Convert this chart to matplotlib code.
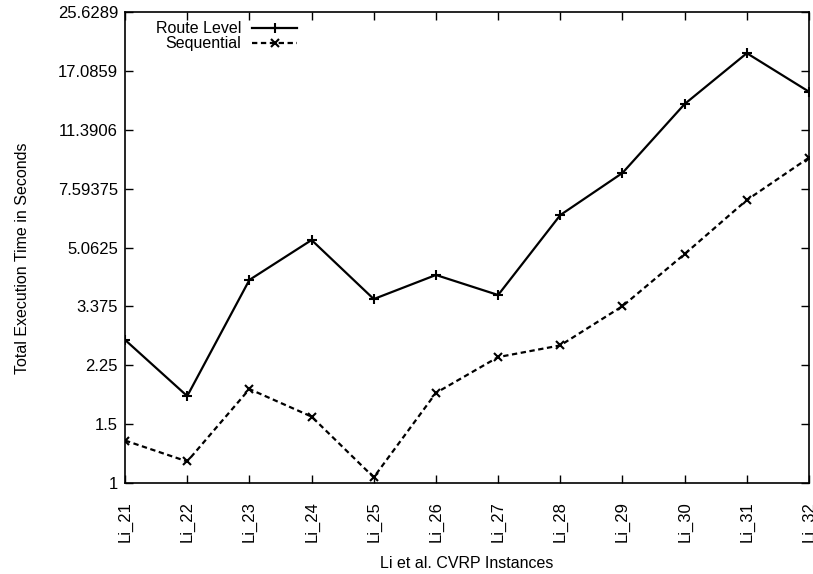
import numpy as np
import matplotlib.pyplot as plt
from matplotlib.ticker import FixedLocator, FixedFormatter, NullLocator

plt.rcParams['font.family'] = ['Liberation Sans', 'DejaVu Sans']

# 实例名称与两种方法的总执行时间（秒）
instances = ['Li_21', 'Li_22', 'Li_23', 'Li_24', 'Li_25', 'Li_26',
             'Li_27', 'Li_28', 'Li_29', 'Li_30', 'Li_31', 'Li_32']
route_level = [2.68, 1.82, 4.05, 5.33, 3.55, 4.19, 3.65, 6.33, 8.46, 13.6, 19.3, 14.8]
sequential = [1.34, 1.16, 1.91, 1.58, 1.04, 1.86, 2.38, 2.58, 3.38, 4.84, 7.02, 9.40]
series_names = ['Route Level', 'Sequential']

# y轴刻度：1.5的幂
ytick_vals = [1.5 ** k for k in range(9)]
ytick_labels = [f'{v:.6g}' for v in ytick_vals]

fs = 12
fs_lab = 11.5
lw = 1.6
fig = plt.figure(figsize=(8.13, 5.74), dpi=100)
ax = fig.add_axes([0.1538, 0.1585, 0.8413, 0.8206])

x = np.arange(len(instances))
styles = [dict(ls='-', marker='+', ms=6.5, mew=1.5),
          dict(ls=(0, (2.4, 1.6)), marker='x', ms=5.5, mew=1.5)]
for ys, st in zip([route_level, sequential], styles):
    ax.plot(x, ys, color='black', lw=lw, **st)

ax.set_yscale('log')
ax.set_ylim(1, ytick_vals[-1])
ax.set_xlim(0, len(instances) - 1)
ax.yaxis.set_major_locator(FixedLocator(ytick_vals))
ax.yaxis.set_major_formatter(FixedFormatter(ytick_labels))
ax.yaxis.set_minor_locator(NullLocator())
ax.set_xticks(x)
ax.set_xticklabels(instances, rotation=90, fontsize=fs)
ax.tick_params(axis='y', labelsize=fs, pad=5)
ax.tick_params(axis='x', pad=13)
ax.tick_params(direction='in', length=6, width=1, top=True, right=True)
for sp in ax.spines.values():
    sp.set_linewidth(1.2)

ax.set_ylabel('Total Execution Time in Seconds', fontsize=fs_lab)
ax.yaxis.set_label_coords(-0.139, 0.478)
ax.set_xlabel('Li et al. CVRP Instances', fontsize=fs_lab)
ax.xaxis.set_label_coords(0.5, -0.155)

# 图例：文字右对齐，样例线在右侧（gnuplot风格）
key_y = [0.966, 0.934]
for name, st, ky in zip(series_names, styles, key_y):
    ax.text(0.1696, ky, name, transform=ax.transAxes, ha='right', va='center',
            fontsize=fs_lab)
    ax.plot([0.1857, 0.2515], [ky, ky], transform=ax.transAxes, color='black',
            lw=lw, ls=st['ls'], clip_on=False)
    ax.plot([0.2193], [ky], transform=ax.transAxes, color='black', ls='none',
            marker=st['marker'], ms=st['ms'], mew=st['mew'], clip_on=False)

fig.savefig('out.png', dpi=100)
